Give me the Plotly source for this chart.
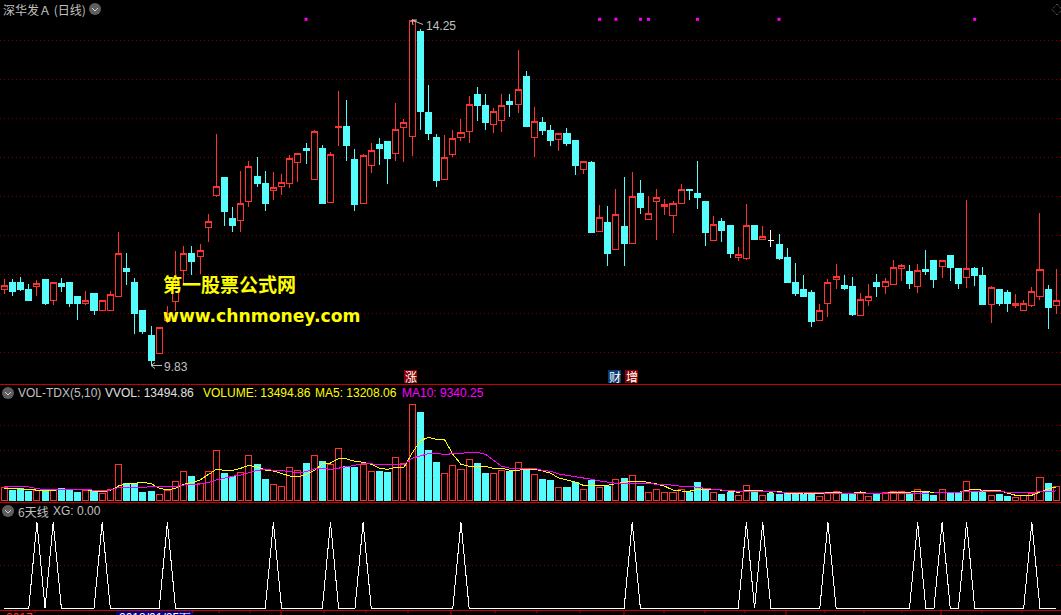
import plotly.graph_objects as go

W, H = 1061, 615

# ---------- price pane data (yuan) ----------
kinds = list("rcccrcrccc" "rcrrrccccr" "rrrcrrrccr" "rccrrrrcrc" "rrccrrccrr"
             "rcccrrrrcc" "rrcrcrccrc" "crcrcrcrcr" "rrrrcccrcc" "rrcrwccccc"
             "rrrccrrcrr" "rcrccrccrc" "crccrrrrcr")
high = [10.94,10.94,10.96,10.88,10.93,10.93,10.89,10.95,10.89,10.71,
        10.79,10.76,10.67,10.79,11.54,11.27,10.95,10.54,10.34,10.32,
        10.59,11.30,11.36,11.36,11.39,11.77,12.80,12.24,11.86,12.32,
        12.45,12.50,12.33,12.31,12.29,12.53,12.55,12.68,12.85,12.66,
        12.57,13.35,13.24,12.61,12.54,12.69,12.75,12.70,13.20,12.99,
        14.27,14.15,13.43,12.80,12.79,12.85,12.99,13.29,13.40,13.31,
        13.13,13.31,13.31,13.88,13.61,13.15,13.02,12.91,12.80,12.88,
        12.71,12.45,12.45,11.89,11.88,12.09,12.25,12.31,12.21,12.00,
        12.09,11.97,11.94,12.16,12.09,12.45,11.94,11.75,11.72,11.63,
        11.35,11.90,11.63,11.62,11.57,11.52,11.34,11.15,10.99,10.80,
        10.62,10.94,11.13,10.99,10.97,10.76,10.88,11.00,10.95,11.18,
        11.13,11.12,11.13,11.31,11.18,11.18,11.24,11.07,11.95,11.09,
        11.09,10.85,10.80,10.80,10.75,10.67,10.84,11.79,10.86,11.07]
body_top = [10.86,10.90,10.90,10.80,10.88,10.93,10.89,10.88,10.89,10.71,
        10.67,10.76,10.67,10.74,11.27,11.08,10.90,10.54,10.21,10.32,
        10.50,10.83,11.27,11.27,11.31,11.68,12.13,12.24,11.71,11.91,
        12.38,12.25,12.17,12.11,12.18,12.49,12.55,12.61,12.83,12.61,
        12.54,12.90,12.90,12.47,12.52,12.59,12.66,12.70,12.86,12.95,
        14.26,14.11,13.08,12.75,12.50,12.74,12.82,13.18,13.30,13.16,
        13.09,13.17,13.21,13.37,13.53,12.96,12.95,12.84,12.80,12.80,
        12.71,12.45,12.44,11.73,11.67,11.77,11.61,12.00,12.04,11.78,
        11.98,11.90,11.91,12.09,12.09,12.04,11.94,11.64,11.68,11.63,
        11.26,11.63,11.63,11.48,11.44,11.38,11.22,10.90,10.81,10.77,
        10.54,10.90,10.97,10.86,10.85,10.68,10.71,10.89,10.91,11.09,
        11.11,11.03,11.05,11.06,11.18,11.18,11.24,11.07,11.08,11.08,
        10.98,10.83,10.80,10.77,10.63,10.63,10.78,11.06,10.81,10.67]
body_bottom = [10.80,10.78,10.81,10.66,10.85,10.63,10.66,10.85,10.63,10.63,
        10.62,10.54,10.53,10.54,10.71,11.04,10.50,10.27,9.90,9.98,
        10.41,10.65,11.05,11.17,11.23,11.60,12.01,11.80,11.63,11.69,
        11.94,12.17,11.91,12.08,12.12,12.16,12.44,12.59,12.21,11.91,
        11.92,12.88,12.65,11.89,11.91,12.39,12.61,12.49,12.55,12.88,
        12.77,13.09,12.81,12.20,12.22,12.53,12.75,12.83,13.16,12.95,
        12.92,12.97,13.18,13.18,12.89,12.75,12.84,12.71,12.73,12.68,
        12.40,12.35,11.54,11.55,11.27,11.32,11.40,11.39,11.86,11.70,
        11.93,11.87,11.75,11.91,12.07,11.99,11.53,11.44,11.56,11.27,
        11.21,11.20,11.45,11.45,11.44,11.20,10.90,10.76,10.72,10.40,
        10.41,10.62,10.94,10.82,10.48,10.47,10.66,10.85,10.84,10.87,
        11.08,10.88,10.85,11.04,10.93,11.10,11.09,10.88,10.96,10.98,
        10.61,10.61,10.62,10.62,10.60,10.53,10.60,10.71,10.58,10.60]
low = [10.75,10.72,10.78,10.66,10.72,10.61,10.61,10.77,10.58,10.41,
        10.61,10.48,10.53,10.54,10.71,10.86,10.24,10.24,9.83,9.98,
        10.37,10.53,10.86,10.99,11.00,11.41,11.99,11.62,11.54,11.54,
        11.86,12.12,11.81,11.95,12.02,12.11,12.18,12.41,12.21,11.91,
        11.92,12.65,12.45,11.81,11.91,12.30,12.40,12.16,12.45,12.44,
        12.52,12.85,12.72,12.12,12.22,12.50,12.71,12.68,12.97,12.85,
        12.81,12.83,13.02,13.07,12.89,12.50,12.79,12.65,12.58,12.65,
        12.27,12.29,11.54,11.55,11.11,11.32,11.11,11.39,11.77,11.70,
        11.44,11.76,11.53,11.91,11.95,11.84,11.36,11.44,11.41,11.21,
        11.17,11.18,11.44,11.45,11.35,11.18,10.89,10.72,10.71,10.32,
        10.41,10.45,10.81,10.80,10.47,10.47,10.59,10.71,10.75,10.87,
        10.91,10.81,10.76,10.99,10.82,10.95,10.91,10.81,10.82,10.85,
        10.61,10.38,10.59,10.52,10.57,10.53,10.58,10.67,10.30,10.49]
signal_bars = [37,73,75,78,79,85,95,119]
signal_price = 14.27
price_grid = [14,13.5,13,12.5,12,11.5,11,10.5,10]

# ---------- volume pane data (thousand lots) ----------
volume = [13,10.3,12,9.3,10.3,10,10.3,12,11,8.3,
          10,9.3,7,11,36,17,17,8.3,9.3,6,
          10,19,29,24.3,17,29,50,27.3,24,28,
          45,36.3,21.3,16,14,33,30,37.3,45,39.3,
          36,52,34,33.3,36,29,29.3,28.3,43,37,
          96.3,88.3,50.3,38.3,27,35,31,41,37.3,27.3,
          27,30,29.3,38,31,26,21.3,20.3,13,13.3,
          18.3,11,20.3,13,14.3,21,22.3,25,14.3,8,
          11,8,8,11,8.3,18.3,12,8,6.3,8.3,
          5,15,9,5,7,6.3,8,6.3,6.3,6.6,
          4,8,9,6.3,6.3,7,4,6,8,9,
          9,7,11,8,5.3,11,8,8,19,9,
          9,5,6.3,4.3,3,5,7,23,17.3,13.49]
ma5 = [12,11.3,11.3,11,10,9.3,10,11,10.7,10.3,
       10.7,9.3,8.7,9.7,14.3,16.7,17,18,16.7,12,
       10.3,12,16,17.7,20.3,25.3,31,30,30,32,
       35,33.3,30.3,29.3,26.7,24.3,23.3,26,29.7,36.3,
       37.3,41.7,41.3,39,38,36,32,31,33,33,
       47,59.3,63,61,60.3,46,36,34,34,34,
       32,32,30,30,31,31,29.3,27,22.3,20.3,
       18.3,15,15,15,15,16.7,18.3,19.3,19.3,18,
       16.3,14,10.3,9.3,9,11,11,11,10,9.3,
       8,9.7,10,9.3,8,9,7,6.3,7.3,7,
       6.7,7.7,7.7,7,7,8.3,6.7,6.3,7.3,7.7,
       7.7,8,9.3,9,7.7,8,7.7,7.7,10,11,
       10,10,10,7.3,5,5,5,8.3,11.3,13.21]
ma10 = [14,14,14,13.3,11.7,10.7,11,11.3,11,10.7,
        10.3,10,10,10.3,12.7,13,13,13,13,13,
        13,13.7,15.3,16.3,16.3,17.7,20.3,22.3,24,25.3,
        28,30,30.7,30.3,29.3,29,27.3,28.7,31.3,32,
        30.7,32,34,35,36.7,36.7,36,35.3,35.3,35.7,
        42,44.7,46.7,47,45.7,46.7,47,48,48,46,
        40,34,32,32,32,32,30,29,26.3,25,
        24,22.3,21,19.3,18,17,17,17,17,17,
        16,16,15,14,14,13.3,12,11,10.3,10.3,
        9,9,9.3,9,9,8,8,8,8,8,
        7.7,7,7,7,7,7,7,7,7,7,
        7.3,7,7.7,7.7,7.3,8,8,8,9,9.3,
        9.3,9,9,8,8,8,7.7,8.7,9,9.34]
volume_grid = [25,50,75]

# ---------- XG pane data ----------
xg_peak_bars = [4,6,12,20,33,40,44,56,77,91,93,101,112,115,118,126]
xg_grid = [0.5]

bars = list(range(len(kinds)))
for s in (high, body_top, body_bottom, low, volume, ma5, ma10):
    assert len(s) == len(bars), len(s)
xg = [1 if i in xg_peak_bars else 0 for i in bars]

# colours
RED, CYAN, GRID, LINE = "#FF3232", "#54FCFC", "#780000", "#C80000"
GRAY, YEL, MAG = "#C0C0C0", "#FFFF00", "#FF00FF"
SANS = "Liberation Sans, Arial, sans-serif"
CJK = "Noto Sans CJK SC, sans-serif"


def fx(x):
    return x / W


def fy(y):
    return 1 - y / H


norm = [i for i in bars if kinds[i] != "w"]
doji = [i for i in bars if kinds[i] == "w"]
opens = [body_bottom[i] if kinds[i] == "r" else body_top[i] for i in bars]
closes = [body_top[i] if kinds[i] == "r" else body_bottom[i] for i in bars]

fig = go.Figure()
fig.add_trace(go.Candlestick(
    x=norm, open=[opens[i] for i in norm], high=[high[i] for i in norm],
    low=[low[i] for i in norm], close=[closes[i] for i in norm],
    increasing=dict(line=dict(color=RED, width=1), fillcolor="#000000"),
    decreasing=dict(line=dict(color=CYAN, width=1), fillcolor=CYAN),
    whiskerwidth=0, xaxis="x", yaxis="y", hoverinfo="skip", showlegend=False))
fig.add_trace(go.Candlestick(
    x=doji, open=[body_top[i] for i in doji], high=[high[i] for i in doji],
    low=[low[i] for i in doji], close=[body_bottom[i] for i in doji],
    increasing=dict(line=dict(color="#FFFFFF", width=1), fillcolor="#FFFFFF"),
    decreasing=dict(line=dict(color="#FFFFFF", width=1), fillcolor="#FFFFFF"),
    whiskerwidth=0, xaxis="x", yaxis="y", hoverinfo="skip", showlegend=False))
fig.add_trace(go.Scatter(
    x=signal_bars, y=[signal_price] * len(signal_bars), mode="markers",
    marker=dict(symbol="square", size=3, color=MAG, line=dict(width=0)),
    xaxis="x", yaxis="y", hoverinfo="skip", showlegend=False))

fig.add_trace(go.Bar(
    x=bars, y=volume, width=0.74,
    marker=dict(color=["#000000" if k == "r" else CYAN for k in kinds],
                line=dict(color=[RED if k == "r" else CYAN for k in kinds], width=1)),
    xaxis="x2", yaxis="y2", hoverinfo="skip", showlegend=False))
fig.add_trace(go.Scatter(x=bars, y=ma5, mode="lines", line=dict(color=YEL, width=1),
                         xaxis="x2", yaxis="y2", hoverinfo="skip", showlegend=False))
fig.add_trace(go.Scatter(x=bars, y=ma10, mode="lines", line=dict(color=MAG, width=1),
                         xaxis="x2", yaxis="y2", hoverinfo="skip", showlegend=False))

fig.add_trace(go.Scatter(x=bars, y=xg, mode="lines", line=dict(color="#FFFFFF", width=1),
                         xaxis="x3", yaxis="y3", hoverinfo="skip", showlegend=False))

x_lo, x_hi = -4.3 / 8.155, (W - 4.3) / 8.155


def xaxis(anchor):
    return dict(domain=[0, 1], range=[x_lo, x_hi], anchor=anchor, visible=False,
                rangeslider=dict(visible=False), fixedrange=True)


def yaxis(top, bottom, lo, hi, grid):
    return dict(domain=[fy(bottom), fy(top)], range=[lo, hi], tickmode="array", tickvals=grid,
                showticklabels=False, ticks="", showline=False, zeroline=False,
                showgrid=True, gridcolor=GRID, griddash="1px,3px", gridwidth=1,
                fixedrange=True)


anns = []


def txt(x, y, s, color=GRAY, size=12, family=SANS, anchor="left", **kw):
    anns.append(dict(x=fx(x), y=fy(y), xref="paper", yref="paper", text=s, showarrow=False,
                     xanchor=anchor, yanchor="middle", borderpad=0,
                     font=dict(color=color, size=size, family=family), **kw))


txt(2, 9, "深华发Ａ (日线)", size=12, family=CJK)
txt(425, 26, "14.25")
txt(163, 367, "9.83")
txt(162, 283, "<b>第一股票公式网</b>", color=YEL, size=19, family=CJK)
txt(162, 316, "<b>www.chnmoney.com</b>", color=YEL, size=17.2, family="DejaVu Sans")
txt(17, 393, "VOL-TDX(5,10)")
txt(104, 393, "VVOL: 13494.86", color="#E0E0E0")
txt(202, 393, "VOLUME: 13494.86", color=YEL)
txt(314, 393, "MA5: 13208.06", color=YEL)
txt(401, 393, "MA10: 9340.25", color=MAG)
txt(17, 511, "6天线", family=CJK)
txt(52, 511, "XG: 0.00")
txt(118, 618, "2018/01/25五", color="#FFFFFF")
txt(5, 618, "2017", color=RED)
for x, s in [(410.5, "涨"), (614.5, "财"), (631.5, "增")]:
    txt(x, 376.5, s, color="#FFFFFF", size=12, family=CJK, anchor="center")

shapes = []


def rect(x0, y0, x1, y1, fill, line=None):
    shapes.append(dict(type="rect", xref="paper", yref="paper", x0=fx(x0), x1=fx(x1),
                       y0=fy(y0), y1=fy(y1), fillcolor=fill, line=dict(width=0),
                       layer="below"))


def seg(x0, y0, x1, y1, color, width=1, layer="above"):
    shapes.append(dict(type="line", xref="paper", yref="paper", x0=fx(x0), x1=fx(x1),
                       y0=fy(y0), y1=fy(y1), line=dict(color=color, width=width), layer=layer))


for y in (384.5, 502.5, 610.5):
    seg(0, y, W, y, LINE, 1)
rect(404, 370, 417, 383, "#8B0000")
rect(625, 370, 638, 383, "#8B0000")
rect(608, 370, 621, 383, "#0A3A70")
rect(116, 611, 193, 615, "#000080")
for x in (35, 193, 219, 250, 324, 366, 408, 495, 537, 580, 664, 705, 745, 825, 864, 902, 982, 1022):
    seg(x, 611, x, 613, LINE)
for x in (281, 451, 624, 786, 941):
    seg(x, 611, x, 615, LINE)

# collapse buttons
for cx, cy in [(95, 9), (8, 393), (8, 511)]:
    shapes.append(dict(type="circle", xref="paper", yref="paper", x0=fx(cx - 6), x1=fx(cx + 6),
                       y0=fy(cy + 6), y1=fy(cy - 6), fillcolor="#5E5E5E", line=dict(width=0)))
    seg(cx - 3, cy - 1, cx, cy + 2, "#D0D0D0", 1)
    seg(cx, cy + 2, cx + 3, cy - 1, "#D0D0D0", 1)

# top-right diamond
for a, b, c, d in [(1052, 9.5, 1057, 4), (1057, 4, 1062, 9.5), (1062, 9.5, 1057, 15), (1057, 15, 1052, 9.5)]:
    shapes.append(dict(type="line", xref="paper", yref="paper", x0=fx(a), x1=fx(c), y0=fy(b), y1=fy(d),
                       line=dict(color="#707070", width=1, dash="1px,1px")))

# extreme-price arrows
for (x0, y0, x1, y1) in [(151, 365.5, 162, 365.5), (151, 365.5, 155, 362.5), (151, 365.5, 155, 368.5),
                         (412, 20, 423, 24.5), (412, 20, 417, 20), (412, 20, 413, 25)]:
    seg(x0, y0, x1, y1, GRAY)

fig.update_layout(
    width=W, height=H, autosize=False, margin=dict(l=0, r=0, t=0, b=0),
    paper_bgcolor="#000000", plot_bgcolor="#000000",
    showlegend=False, barmode="overlay", boxgap=0.26, boxgroupgap=0, hovermode=False,
    xaxis=xaxis("y"), xaxis2=xaxis("y2"), xaxis3=xaxis("y3"),
    yaxis=yaxis(0, 384, 9.594, 14.517, price_grid),
    yaxis2=yaxis(384.5, 502.5, -2.2, 115.8, volume_grid),
    yaxis3=yaxis(503, 610, -0.0198, 1.2244, xg_grid),
    annotations=anns, shapes=shapes,
)

css = ("html,body{margin:0;padding:0;background:#000;overflow:hidden}"
       ".scatterlayer .js-line{shape-rendering:crispEdges}"
       ".boxlayer path{shape-rendering:crispEdges}"
       ".barlayer path{shape-rendering:crispEdges}")
post = ("var s=document.createElement('style');s.textContent=" + repr(css) +
        ";document.head.appendChild(s);")
fig.write_html("out.html", post_script=post, config=dict(displayModeBar=False, staticPlot=True))
